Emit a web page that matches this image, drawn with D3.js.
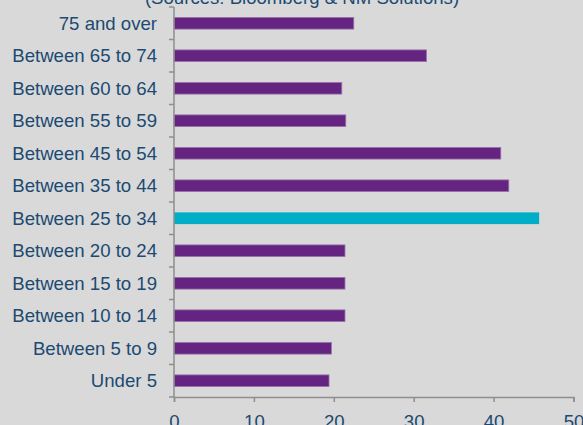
<!DOCTYPE html>
<html>
<head>
<meta charset="utf-8">
<script src="https://cdn.jsdelivr.net/npm/d3@7"></script>
<style>
  html, body { margin: 0; padding: 0; background: #d9d9d9; }
  svg { display: block; font-family: "Liberation Sans", Arial, sans-serif; }
  .lbl { fill: #1b4a72; font-size: 18.6px; }
</style>
</head>
<body>
<div id="chart"></div>
<script>
// categories top to bottom
var ageGroups = ['75 and over', 'Between 65 to 74', 'Between 60 to 64', 'Between 55 to 59',
	'Between 45 to 54', 'Between 35 to 44', 'Between 25 to 34', 'Between 20 to 24',
	'Between 15 to 19', 'Between 10 to 14', 'Between 5 to 9', 'Under 5'];
var shares = [22.5, 31.6, 21.0, 21.5, 40.9, 41.9, 45.7, 21.4, 21.4, 21.4, 19.7, 19.4];
var highlight = 'Between 25 to 34';
var xTicks = [0, 10, 20, 30, 40, 50];
var title = '(Sources: Bloomberg & NM Solutions)';

var width = 583, height = 425;
var svg = d3.select('#chart').append('svg')
	.attr('width', width)
	.attr('height', height);

var x = d3.scaleLinear().domain([0, 50]).range([174, 573.5]);
var y = d3.scaleBand().domain(ageGroups).range([7, 397])
	.paddingInner(0.64).paddingOuter(0.32);

var rows = ageGroups.map(function(d, i) {
	return { name: d, value: shares[i] };
});

// title, mostly off the top edge
svg.append('text')
	.attr('class', 'lbl')
	.attr('x', 302)
	.attr('y', 4)
	.attr('text-anchor', 'middle')
	.text(title);

// bars
svg.selectAll('rect.bar')
	.data(rows)
	.enter().append('rect')
	.attr('class', 'bar')
	.attr('x', x(0))
	.attr('y', function(d) { return y(d.name); })
	.attr('width', function(d) { return x(d.value) - x(0); })
	.attr('height', y.bandwidth())
	.attr('fill', function(d) { return d.name === highlight ? '#00aec7' : '#662482'; })
	.attr('stroke', function(d) { return d.name === highlight ? 'none' : '#9a75ab'; })
	.attr('stroke-width', 0.8);

// category labels
svg.selectAll('text.cat')
	.data(rows)
	.enter().append('text')
	.attr('class', 'lbl cat')
	.attr('x', 157)
	.attr('y', function(d) { return y(d.name) + y.bandwidth() / 2; })
	.attr('dy', '0.36em')
	.attr('text-anchor', 'end')
	.text(function(d) { return d.name; });

var axisColor = '#8e8e8e';
var step = y.step();
var bounds = d3.range(ageGroups.length + 1).map(function(i) { return 7 + i * step; });

// y axis line + ticks at category boundaries
svg.append('line')
	.attr('x1', x(0)).attr('x2', x(0))
	.attr('y1', 7).attr('y2', 397)
	.attr('stroke', axisColor).attr('stroke-width', 1.5);
svg.selectAll('line.ytick')
	.data(bounds)
	.enter().append('line')
	.attr('class', 'ytick')
	.attr('x1', x(0) - 5).attr('x2', x(0))
	.attr('y1', function(d) { return d; })
	.attr('y2', function(d) { return d; })
	.attr('stroke', axisColor).attr('stroke-width', 1.5);

// x axis
var xAxis = svg.append('g')
	.attr('transform', 'translate(0,397)')
	.call(d3.axisBottom(x).tickValues(xTicks).tickSize(5).tickPadding(13));
xAxis.select('.domain').attr('stroke', axisColor).attr('stroke-width', 1.5);
xAxis.selectAll('.tick line').attr('stroke', axisColor).attr('stroke-width', 1.5);
xAxis.selectAll('.tick text')
	.attr('class', 'lbl')
	.attr('dy', '0.71em')
	.style('font-family', '"Liberation Sans", Arial, sans-serif');
</script>
</body>
</html>
